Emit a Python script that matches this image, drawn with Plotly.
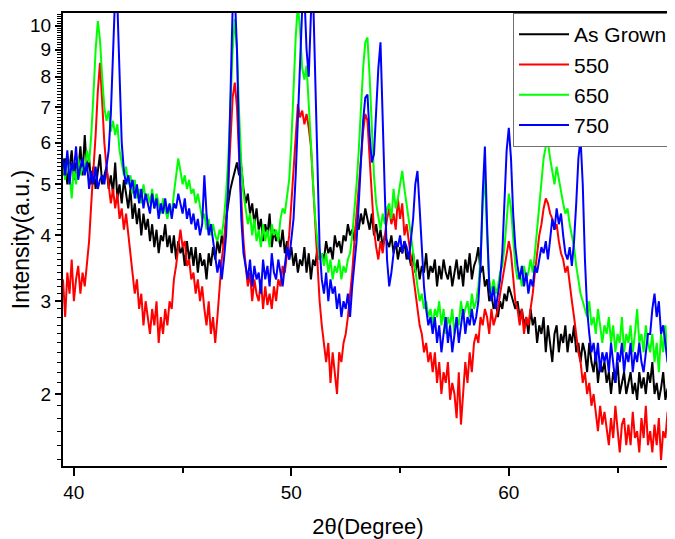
import plotly.graph_objects as go

# 2-theta grid: 39.5 .. 67.5 deg, 0.1 deg step
X_START = 39.5
X_STEP = 0.1

as_grown = [
    5.2, 5.6, 5.0, 5.4, 5.8, 5.1, 5.5, 5.3, 5.9, 5.2,
    6.2, 5.3, 5.6, 5.0, 5.4, 4.9, 5.3, 5.7, 5.0, 5.2,
    5.4, 4.9, 5.2, 4.8, 5.5, 4.7, 5.0, 4.6, 5.1, 4.8,
    4.5, 4.9, 4.3, 4.6, 4.2, 4.5, 4.0, 4.4, 4.1, 4.3,
    3.9, 4.2, 3.8, 4.1, 3.7, 4.0, 3.9, 4.2, 3.8, 4.0,
    3.7, 4.0, 3.6, 3.9, 3.7, 3.8, 3.5, 3.9, 3.6, 3.8,
    3.5, 3.8, 3.4, 3.7, 3.5, 3.6, 3.3, 3.7, 3.5, 3.8,
    3.6, 3.9, 3.7, 4.0, 3.8, 4.3, 4.6, 4.9, 5.1, 5.3,
    5.5, 5.2, 5.4, 4.9, 4.6, 4.8, 4.4, 4.6, 4.2, 4.5,
    4.1, 4.3, 3.9, 4.2, 4.0, 4.4, 3.8, 4.1, 3.9, 4.0,
    3.8, 4.1, 3.7, 3.9, 3.6, 3.8, 3.5, 3.7, 3.4, 3.6,
    3.5, 3.8, 3.4, 3.7, 3.3, 3.6, 3.5, 3.8, 3.6, 3.7,
    3.6, 3.9, 3.7, 3.8, 3.6, 4.0, 3.8, 3.9, 3.7, 4.0,
    3.9, 4.2, 4.0, 4.1, 3.9, 4.3, 4.1, 4.4, 4.2, 4.5,
    4.3, 4.1, 4.4, 4.0, 4.2, 3.9, 4.1, 3.8, 4.0, 3.9,
    3.8, 4.0, 3.7, 3.9, 3.6, 3.8, 3.7, 3.9, 3.6, 3.7,
    3.5, 3.7, 3.4, 3.6, 3.3, 3.5, 3.4, 3.7, 3.3, 3.5,
    3.4, 3.6, 3.2, 3.5, 3.3, 3.6, 3.4, 3.3, 3.5, 3.2,
    3.4, 3.6, 3.3, 3.5, 3.2, 3.6, 3.4, 3.7, 3.3, 3.5,
    3.6, 3.8, 3.4, 3.5, 3.2, 3.3, 3.0, 3.1, 2.9, 3.0,
    2.8, 3.0, 2.9, 3.1, 3.0, 3.2, 3.1, 3.0, 2.9, 3.0,
    2.8, 2.9, 2.7, 2.8, 2.6, 2.9, 2.7, 2.8, 2.5, 2.7,
    2.6, 2.8, 2.4, 2.7, 2.5, 2.3, 2.6, 2.7, 2.4, 2.6,
    2.5, 2.7, 2.4, 2.6, 2.5, 2.7, 2.4, 2.5, 2.3, 2.5,
    2.4, 2.2, 2.5, 2.3, 2.2, 2.4, 2.1, 2.3, 2.2, 2.3,
    2.1, 2.2, 2.0, 2.2, 2.1, 2.3, 2.0, 2.1, 2.2, 2.0,
    2.1, 2.2, 2.0, 2.1, 1.95, 2.2, 2.05, 2.15, 2.0, 2.2,
    2.1, 2.3, 2.0, 2.1, 1.95, 2.05, 2.2, 1.95, 2.05, 1.9,
    2.0,
]

t550 = [
    3.3, 2.8, 3.4, 3.1, 3.6, 3.0, 3.3, 3.5, 3.1, 3.4,
    3.2, 3.6, 3.9, 4.6, 5.3, 6.2, 7.5, 8.5, 7.2, 6.0,
    5.4, 5.0, 4.6, 4.9, 4.5, 4.8, 4.3, 4.5, 4.1, 4.4,
    4.0, 3.7, 3.4, 3.1, 3.3, 2.9, 3.1, 2.7, 3.0, 2.8,
    2.6, 2.9, 2.7, 3.0, 2.5, 2.8, 2.6, 2.9, 2.7, 3.0,
    2.9, 3.3, 3.5, 3.8, 4.1, 3.8, 3.9, 3.5, 3.6, 3.3,
    3.4, 3.1, 3.3, 3.0, 3.2, 2.9, 2.7, 3.0, 2.6, 2.8,
    2.5, 2.8, 3.2, 3.6, 3.9, 4.3, 5.0, 6.2, 7.3, 7.8,
    7.0, 5.6, 4.6, 3.9, 3.5, 3.2, 3.4, 3.0, 3.3, 3.1,
    3.0, 3.3, 2.9, 3.2, 2.95, 3.1, 2.9, 3.2, 3.0, 3.3,
    3.2, 3.5, 3.4, 3.7, 4.0, 4.6, 5.4, 6.3, 7.1, 6.7,
    6.9, 6.5, 6.8, 6.4, 5.9, 5.0, 4.2, 3.5, 3.0, 2.7,
    2.5, 2.3, 2.5, 2.1, 2.4, 2.2, 2.0, 2.4, 2.3, 2.5,
    2.6, 2.8, 3.1, 3.4, 3.9, 4.4, 5.0, 5.6, 6.3, 6.8,
    6.6, 5.6, 4.7, 4.1, 3.8, 3.6, 3.9, 3.7, 4.0, 4.3,
    4.5, 4.2, 4.4, 4.1, 4.7, 4.3, 4.6, 4.0, 4.2, 3.9,
    3.6, 3.4, 3.1, 2.9, 2.7, 2.6, 2.4, 2.5, 2.3, 2.4,
    2.2, 2.4, 2.1, 2.3, 2.0, 2.2, 2.1, 2.3, 1.95, 2.1,
    2.0, 1.8, 2.2, 1.75, 2.0, 2.3, 2.1, 2.4, 2.2, 2.5,
    2.6, 2.5, 2.8, 2.7, 2.9, 2.8, 2.6, 2.9, 2.7, 2.8,
    2.9, 3.1, 3.3, 3.5, 3.7, 3.9, 3.7, 3.3, 3.0, 2.9,
    2.7, 2.9, 2.6, 2.8, 2.7, 2.9, 3.1, 3.4, 3.7, 4.0,
    4.2, 4.5, 4.7, 4.6, 4.4, 4.3, 4.1, 4.2, 3.9, 3.7,
    3.6, 3.4, 3.5, 3.2, 3.0, 2.8, 2.6, 2.4, 2.3, 2.1,
    2.2, 2.0, 2.1, 1.9, 2.0, 1.85, 1.7, 1.9, 1.75, 1.85,
    1.7, 1.6, 1.8, 1.65, 1.9, 1.7, 1.55, 1.75, 1.8, 1.6,
    1.75, 1.6, 1.85, 1.65, 1.7, 1.55, 1.8, 1.65, 1.9, 1.6,
    1.7, 1.55, 1.75, 1.6, 1.8, 1.5, 1.7, 1.65, 1.85, 1.55,
    1.6,
]

t650 = [
    5.5, 5.1, 5.7, 5.3, 4.7, 5.4, 5.0, 5.6, 5.2, 5.4,
    5.3, 5.8, 5.5, 6.2, 7.4, 9.0, 10.2, 9.4, 8.0, 7.0,
    6.6, 6.9, 6.3, 6.6, 6.2, 6.5, 5.8, 5.5, 5.2, 5.4,
    5.0, 5.2, 4.8, 5.1, 4.7, 4.9, 4.6, 5.0, 4.7, 4.8,
    4.6, 4.9, 4.5, 4.8, 4.6, 4.4, 4.7, 4.5, 4.3, 4.5,
    4.4, 4.8, 5.2, 5.6, 5.3, 5.0, 5.2, 4.9, 5.1, 4.8,
    4.9, 4.6, 4.8, 4.5, 4.3, 4.4, 4.1, 4.3, 4.0, 4.2,
    4.0, 3.9, 4.1, 4.0, 4.3, 4.8, 5.6, 7.0, 9.0, 10.3,
    9.0, 6.8, 5.5, 4.8, 4.5, 4.2, 4.4, 4.0, 4.3, 3.9,
    4.1, 3.8, 4.2, 3.9, 4.1, 3.8, 4.2, 4.0, 4.1, 3.9,
    4.3, 4.5, 4.4, 4.7, 5.1, 6.0, 7.6, 9.5, 11.0, 9.8,
    8.3, 7.9, 8.4, 7.2, 6.0, 5.0, 4.3, 3.9, 3.6, 3.7,
    3.5, 3.7, 3.4, 3.6, 3.3, 3.5, 3.4, 3.6, 3.3, 3.5,
    3.4, 3.6, 3.7, 4.0, 4.4, 5.0, 5.8, 7.0, 8.3, 9.3,
    9.5, 8.0, 6.3, 5.2, 4.6, 4.3, 4.1, 4.4, 4.2, 4.5,
    4.6, 4.3, 4.9, 4.5, 4.7, 5.0, 5.3, 4.9, 4.6, 4.3,
    4.0, 3.7, 3.4, 3.2, 3.0, 3.1, 2.9, 3.0, 2.8, 2.9,
    2.7, 2.9, 2.8, 3.0, 2.7, 2.9, 2.6, 2.8, 2.7, 2.9,
    2.6, 2.8, 2.7, 3.0, 2.8, 2.9, 3.0, 2.8, 3.1, 2.9,
    3.0, 3.2, 3.6, 4.6, 5.2, 4.0, 3.3, 3.1, 3.3, 3.1,
    3.2, 3.4, 3.5, 3.8, 4.3, 4.8, 4.5, 3.9, 3.5, 3.3,
    3.4, 3.2, 3.5, 3.3, 3.4, 3.6, 3.4, 3.7, 4.1, 4.6,
    5.1, 5.6, 5.9, 6.0, 5.6, 5.3, 5.0, 5.4, 5.1, 4.8,
    4.6, 4.4, 4.5, 4.2, 4.0, 3.8, 3.5, 3.3, 3.1, 3.0,
    2.9, 2.8, 3.0, 2.7, 2.8, 2.6, 2.9, 2.7, 2.5, 2.7,
    2.6, 2.8, 2.5, 2.7, 2.4, 2.6, 2.5, 2.8, 2.4, 2.6,
    2.5, 2.7, 2.4, 2.6, 2.9, 2.5, 2.6, 2.4, 2.7, 2.5,
    2.4, 2.6, 2.3, 2.5, 2.2, 2.6, 2.4, 2.7, 2.3, 2.2,
    2.4,
]

t750 = [
    5.6, 5.2, 5.8, 5.0, 5.5, 5.3, 5.9, 5.1, 5.4, 5.6,
    5.2, 5.5, 4.9, 5.3, 5.0, 5.4, 4.9, 5.1, 5.2, 5.0,
    5.4, 5.8, 6.8, 9.0, 11.5, 11.0, 8.0, 6.0, 5.3, 5.0,
    5.2, 4.9, 5.1, 4.7, 5.0, 4.6, 4.9, 4.5, 4.8, 4.6,
    4.4, 4.8, 4.5, 4.7, 4.3, 4.6, 4.4, 4.7, 4.4, 4.6,
    4.3, 4.6, 4.5, 4.8, 4.6, 4.4, 4.7, 4.3, 4.5, 4.2,
    4.4, 4.1, 4.3, 4.0, 4.2, 5.2, 4.4, 4.0, 4.2, 3.9,
    3.7, 3.4, 3.6, 3.3, 3.6, 4.0, 5.0, 7.5, 10.8, 11.5,
    9.0, 5.8, 4.3, 3.7, 3.5, 3.3, 3.6, 3.2, 3.5, 3.3,
    3.4, 3.1, 3.6, 3.3, 3.5, 3.2, 3.7, 3.4, 3.3, 3.6,
    3.4, 3.2, 3.5, 3.8, 3.6, 3.9, 4.3, 5.2, 6.5, 8.5,
    10.8, 11.5, 9.0, 8.0, 10.5, 11.5, 8.0, 5.0, 3.8, 3.3,
    3.1, 3.4, 3.0, 3.3, 3.1, 3.2, 2.9, 3.1, 2.8, 3.0,
    2.9, 3.1, 2.8, 3.2, 3.5, 3.9, 4.6, 5.5, 6.6, 7.3,
    7.4, 6.2, 5.5, 5.7, 6.8, 8.3, 9.3, 7.0, 4.8, 3.6,
    3.2, 3.4, 3.7, 3.9, 3.8, 4.0, 3.7, 3.9, 3.8, 3.6,
    3.9, 4.3, 5.0, 5.3, 4.5, 3.7, 3.2, 2.9, 2.7, 2.8,
    2.6, 2.8, 2.5, 2.7, 2.4, 2.6, 2.8, 2.5, 2.7, 2.4,
    2.6, 2.8, 2.5, 2.7, 2.9, 2.6, 2.8, 2.7, 2.9, 2.7,
    2.8, 3.0, 3.5, 4.8, 5.9, 4.2, 3.2, 3.0, 3.2, 2.9,
    3.1, 3.3, 3.7, 4.6, 5.8, 6.4, 5.6, 4.4, 3.8, 3.5,
    3.3, 3.5, 3.2, 3.4, 3.1, 3.3, 3.2, 3.5, 3.4, 3.6,
    3.8, 3.7, 3.9, 3.6, 4.0, 4.3, 4.1, 4.5, 4.2, 4.4,
    4.0, 3.7, 3.6, 3.8, 3.5, 3.9, 4.6, 5.6, 6.1, 5.0,
    3.6, 2.9, 2.6, 2.4, 2.5, 2.3, 2.5, 2.2, 2.4, 2.3,
    2.4, 2.2, 2.5, 2.3, 2.1, 2.4, 2.3, 2.5, 2.2, 2.4,
    2.3, 2.5, 2.2, 2.4, 2.3, 2.5, 2.3, 2.2, 2.4, 2.6,
    2.6, 2.9, 3.1, 2.8, 3.0, 2.6, 2.7, 2.5, 2.3, 2.5,
    2.4,
]

series_names = ["As Grown", "550", "650", "750"]
series_values = [as_grown, t550, t650, t750]
series_colors = ["#000000", "#ff0000", "#00ff00", "#0000ff"]

y_tick_vals = [2, 3, 4, 5, 6, 7, 8, 9, 10]
y_tick_text = ["2", "3", "4", "5", "6", "7", "8", "9", "10"]
x_tick_vals = [40, 50, 60]
x_tick_text = ["40", "50", "60"]
x_minor_vals = [45, 55, 65]

two_theta = [round(X_START + X_STEP * i, 2) for i in range(len(as_grown))]

# minor ticks every 0.1 on the log axis
y_minor = []
v = 15
while v <= 105:
    if v % 10 != 0:
        y_minor.append(v / 10)
    v += 1

Y_RANGE = [0.1644, 1.0241]
FONT = "Liberation Sans, Arial, sans-serif"

fig = go.Figure()
for name, vals, col in zip(series_names, series_values, series_colors):
    fig.add_trace(go.Scatter(x=two_theta, y=vals, mode="lines", name=name,
                             line=dict(color=col, width=2)))
# carrier for the labelled (major-tick) overlay axis
fig.add_trace(go.Scatter(x=[None], y=[None], yaxis="y2", showlegend=False,
                         hoverinfo="skip"))

# the page body adds an 8 px margin, so the figure is sized to fit the window
fig.update_layout(
    width=667, height=531,
    margin=dict(l=55, r=2, t=5, b=73, autoexpand=False),
    paper_bgcolor="white", plot_bgcolor="white",
    font=dict(family=FONT, color="black"),
    showlegend=True,
    legend=dict(x=1, y=1, xanchor="right", yanchor="top",
                bgcolor="white", bordercolor="#707070", borderwidth=1,
                font=dict(size=21, family=FONT), tracegroupgap=0,
                itemwidth=50),
    xaxis=dict(
        range=[39.5, 67.55], showgrid=False, zeroline=False,
        showline=True, linecolor="black", linewidth=1.5, mirror=True,
        tickmode="array", tickvals=x_tick_vals, ticktext=x_tick_text,
        ticks="outside", ticklen=8, tickwidth=1.5, tickcolor="black",
        tickfont=dict(size=19),
        minor=dict(tickmode="array", tickvals=x_minor_vals, ticks="outside",
                   ticklen=5, tickwidth=1.5, tickcolor="black", showgrid=False),
        title=dict(text="2θ(Degree)", font=dict(size=22), standoff=19),
    ),
    yaxis=dict(
        type="log", range=Y_RANGE, showgrid=False, zeroline=False,
        showline=True, linecolor="black", linewidth=1.5, mirror=True,
        tickmode="array", tickvals=y_minor, showticklabels=False,
        ticks="outside", ticklen=4, tickwidth=1, tickcolor="black",
    ),
    yaxis2=dict(
        type="log", range=Y_RANGE, overlaying="y", side="left",
        showgrid=False, zeroline=False, showline=False,
        tickmode="array", tickvals=y_tick_vals, ticktext=y_tick_text,
        ticks="outside", ticklen=7, tickwidth=1.5, tickcolor="black",
        tickfont=dict(size=19), ticklabelstandoff=0,
        title=dict(text="Intensity(a.u.)", font=dict(size=23), standoff=22),
    ),
)

fig.write_html("out.html")
